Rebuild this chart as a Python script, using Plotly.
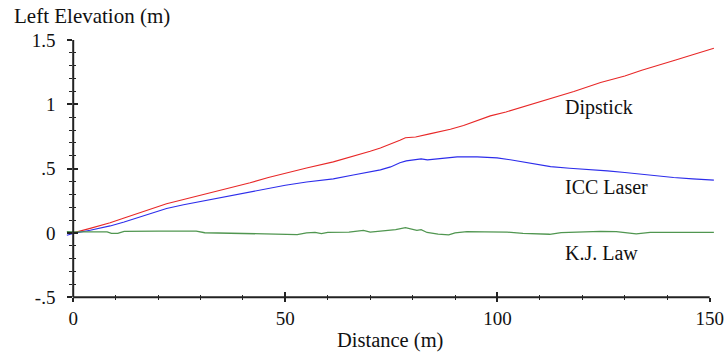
import plotly.graph_objects as go

# ---- data ----
dip_x = [-1, 0, 4, 8.7, 12, 16, 20, 22, 26, 30, 34.7, 37, 41.7, 46, 50, 55, 61.3, 65, 70,
         72.4, 74.8, 77, 78.3, 80.7, 84, 88.9, 92, 95, 98.3, 102, 106, 110.1, 112.5, 118,
         124.3, 130, 134, 137.7, 142, 146, 151]
dip_y = [-0.005, 0.0, 0.035, 0.078, 0.115, 0.16, 0.205, 0.226, 0.26, 0.292, 0.328, 0.348,
         0.39, 0.43, 0.465, 0.505, 0.552, 0.585, 0.635, 0.66, 0.69, 0.72, 0.74, 0.745, 0.77,
         0.806, 0.835, 0.87, 0.91, 0.94, 0.98, 1.019, 1.045, 1.1, 1.169, 1.22, 1.265, 1.30,
         1.345, 1.385, 1.436]

icc_x = [-1.5, 0, 4, 8.7, 12, 16, 22, 26, 30, 35.4, 40, 45, 50, 55, 61.3, 66, 70, 72.4,
         74.8, 77, 78.5, 80.2, 82, 83.5, 86.6, 88, 90.5, 95.2, 99.9, 103, 105.4, 110,
         112.5, 117, 121, 125.9, 130, 133.7, 137, 141.5, 146, 151]
icc_y = [-0.018, -0.005, 0.02, 0.054, 0.085, 0.125, 0.19, 0.218, 0.243, 0.28, 0.31, 0.34,
         0.37, 0.395, 0.42, 0.45, 0.477, 0.49, 0.513, 0.545, 0.56, 0.565, 0.575, 0.568,
         0.578, 0.58, 0.591, 0.591, 0.583, 0.568, 0.554, 0.529, 0.515, 0.503, 0.495, 0.482,
         0.47, 0.456, 0.445, 0.43, 0.42, 0.41]

kj_x = [-1.5, 0, 8, 9, 10.5, 12, 20, 29, 31, 38, 45, 50, 52.8, 55, 57, 58.5, 60, 65, 68.4,
        70, 72.4, 76, 78.3, 80, 81, 82, 83.4, 86, 88.5, 90, 92.8, 97, 102.3, 106, 110,
        112.3, 115, 120, 124.3, 128, 132.7, 136, 145, 151]
kj_y = [0.01, 0.008, 0.008, -0.004, -0.004, 0.012, 0.014, 0.014, 0.001, -0.004, -0.008,
        -0.01, -0.013, 0.0, 0.003, -0.006, 0.003, 0.006, 0.02, 0.006, 0.012, 0.025, 0.04,
        0.027, 0.02, 0.025, 0.003, -0.01, -0.016, 0.0, 0.01, 0.007, 0.006, -0.004, -0.005,
        -0.011, 0.002, 0.006, 0.012, 0.009, -0.008, 0.003, 0.003, 0.003]

x_ticks = [0, 50, 100, 150]
x_minor = [10, 20, 30, 40, 60, 70, 80, 90, 110, 120, 130, 140]
y_tickvals = [-0.5, 0, 0.5, 1, 1.5]
y_ticktext = ["-.5", "0", ".5", "1", "1.5"]
y_minor = [-0.4, -0.3, -0.2, -0.1, 0.1, 0.2, 0.3, 0.4, 0.6, 0.7, 0.8, 0.9,
           1.1, 1.2, 1.3, 1.4]

series_labels = ["Dipstick", "ICC Laser", "K.J. Law"]
label_y = [0.975, 0.355, -0.16]
label_x = 115.5

# ---- layout constants ----
XA = [x_ticks[0], x_ticks[-1]]      # drawn x-axis span
YR = [y_tickvals[0], y_tickvals[-1]]  # drawn y-axis span
XR = [-1.7, 151.5]                  # data subplot x range (lines run a little past the axes)
YD = [-0.53, 1.5]                   # data subplot y range (room for the x-axis line)
FONT = "Liberation Serif"
AX = "#222222"
ML, MR, MT, MB = 66, 11, 40, 53
W, H = 727, 354
PW = W - ML - MR
PH = H - MT - MB


def xfrac(v):
    return (v - XR[0]) / (XR[1] - XR[0])


def yfrac(v):
    return (v - YD[0]) / (YD[1] - YD[0])


XDOM = [xfrac(XA[0]), xfrac(XA[1])]
YDOM = [yfrac(YR[0]), yfrac(YR[1])]

fig = go.Figure()
fig.add_trace(go.Scatter(x=dip_x, y=dip_y, mode="lines", line=dict(color="rgb(232,40,40)", width=1.1),
                         name="Dipstick"))
fig.add_trace(go.Scatter(x=icc_x, y=icc_y, mode="lines", line=dict(color="rgb(45,45,235)", width=1.1),
                         name="ICC Laser"))
fig.add_trace(go.Scatter(x=kj_x, y=kj_y, mode="lines", line=dict(color="rgb(80,150,80)", width=1.3),
                         name="K.J. Law"))

# axis lines (x axis along y = -0.5 from 0 to 150, y axis along x = 0)
fig.add_trace(go.Scatter(x=XA, y=[YR[0], YR[0]], mode="lines", line=dict(color=AX, width=2),
                         showlegend=False, hoverinfo="skip"))
fig.add_trace(go.Scatter(x=[XA[0], XA[0]], y=YR, mode="lines", line=dict(color=AX, width=2),
                         showlegend=False, hoverinfo="skip"))

# empty traces that register the tick-drawing subplots
for xa, ya in [("x2", "y2"), ("x3", "y2"), ("x4", "y2"), ("x5", "y2"),
               ("x2", "y3"), ("x2", "y4"), ("x2", "y5"), ("x2", "y6")]:
    fig.add_trace(go.Scatter(x=[None], y=[None], xaxis=xa, yaxis=ya, showlegend=False, mode="lines"))

tick_font = dict(family=FONT, size=19, color="#111")
hidden = dict(visible=False, showgrid=False, zeroline=False)


def xover(vals, side, ln, w):
    return dict(range=XA, autorange=False, overlaying="x2", anchor="y2", side="bottom",
                showgrid=False, zeroline=False, showline=False, showticklabels=False,
                tickmode="array", tickvals=vals, ticks=side, ticklen=ln, tickwidth=w, tickcolor=AX)


def yover(vals, side, ln, w):
    return dict(range=YR, autorange=False, overlaying="y2", anchor="x2", side="left",
                showgrid=False, zeroline=False, showline=False, showticklabels=False,
                tickmode="array", tickvals=vals, ticks=side, ticklen=ln, tickwidth=w, tickcolor=AX)


fig.update_layout(
    width=W, height=H,
    margin=dict(l=ML, r=MR, t=MT, b=MB),
    paper_bgcolor="white", plot_bgcolor="rgba(0,0,0,0)",
    showlegend=False,
    font=dict(family=FONT, color="#111"),
    xaxis=dict(range=XR, autorange=False, domain=[0, 1], anchor="y", **hidden),
    yaxis=dict(range=YD, autorange=False, domain=[0, 1], anchor="x", **hidden),
    # tick-drawing axes
    xaxis2=dict(range=XA, autorange=False, domain=XDOM, anchor="y2", side="bottom",
                showgrid=False, zeroline=False, showline=False,
                tickmode="array", tickvals=x_ticks, ticks="outside", ticklen=4, tickwidth=1.5,
                tickcolor=AX, tickfont=tick_font, automargin=False),
    yaxis2=dict(range=YR, autorange=False, domain=YDOM, anchor="x2", side="left",
                showgrid=False, zeroline=False, showline=False,
                tickmode="array", tickvals=y_tickvals, ticktext=y_ticktext,
                ticks="outside", ticklen=13, tickwidth=1, tickcolor="rgba(0,0,0,0)",
                tickfont=tick_font, automargin=False),
    xaxis3=xover(x_ticks, "inside", 5, 1.5),
    xaxis4=xover(x_minor, "outside", 2, 1.2),
    xaxis5=xover(x_minor, "inside", 2, 1.2),
    yaxis3=yover(y_tickvals, "outside", 5, 1.5),
    yaxis4=yover(y_tickvals, "inside", 5, 1.5),
    yaxis5=yover(y_minor, "outside", 3, 1.2),
    yaxis6=yover(y_minor, "inside", 3, 1.2),
)

# series labels
for txt, yv in zip(series_labels, label_y):
    fig.add_annotation(x=label_x, y=yv, xref="x", yref="y", text=txt, showarrow=False,
                       xanchor="left", yanchor="middle", font=dict(family=FONT, size=20, color="#111"))

# axis titles (pixel positions converted to paper fractions)
fig.add_annotation(x=(12 - ML) / PW, y=(H - MB - 16) / PH, xref="paper", yref="paper",
                   text="Left Elevation (m)", showarrow=False, xanchor="left", yanchor="middle",
                   font=dict(family=FONT, size=21, color="#111"))
fig.add_annotation(x=(390 - ML) / PW, y=(H - MB - 340) / PH, xref="paper", yref="paper",
                   text="Distance (m)", showarrow=False, xanchor="center", yanchor="middle",
                   font=dict(family=FONT, size=20.5, color="#111"))

fig.write_html("out.html")
